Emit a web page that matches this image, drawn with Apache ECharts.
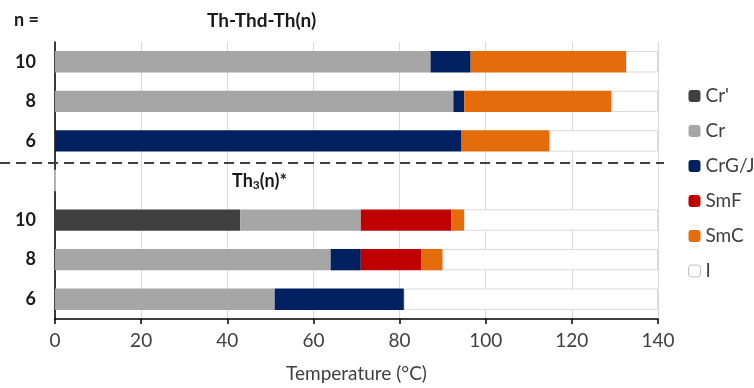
<!DOCTYPE html>
<html>
<head>
<meta charset="utf-8">
<script src="https://cdn.jsdelivr.net/npm/echarts@6/dist/echarts.min.js"></script>
<style>
  html, body { margin: 0; padding: 0; background: #fff; }
  #main { width: 754px; height: 388px; }
</style>
</head>
<body>
<div id="main"></div>
<script>
// rows from bottom to top: Th3(n)* 6, 8, 10, gap, Th-Thd-Th(n) 6, 8, 10
var rowKeys = ['b6', 'b8', 'b10', 'gap', 't6', 't8', 't10'];
var rowLabels = ['6', '8', '10', '', '6', '8', '10'];

// width of each phase range (°C) per row
var crPrime = [0, 0, 43, 0, 0, 0, 0];
var cr      = [51, 64, 28, 0, 0, 92.5, 87.2];
var crgj    = [30, 7, 0, 0, 94.4, 2.5, 9.3];
var smf     = [0, 14, 21, 0, 0, 0, 0];
var smc     = [0, 5, 3, 0, 20.4, 34.2, 36.1];
var iso     = [59, 50, 45, 0, 25.2, 10.8, 7.4];

var xTicks = [0, 20, 40, 60, 80, 100, 120, 140];

var font = 'Lato';

var myChart = echarts.init(document.getElementById('main'));

function bar(name, data, color, border) {
    return {
        name: name,
        type: 'bar',
        stack: 'phase',
        barWidth: '54%',
        data: data,
        itemStyle: {
            color: color,
            borderColor: border || 'rgba(0,0,0,0)',
            borderWidth: border ? 1 : 0
        },
        emphasis: { disabled: true }
    };
}

var option = {
    backgroundColor: '#fff',
    animation: false,
    textStyle: { fontFamily: font },
    grid: { left: 55, right: 96, top: 42, bottom: 67, containLabel: false },
    legend: {
        orient: 'vertical',
        left: 688,
        top: 86,
        padding: 0,
        itemWidth: 12,
        itemHeight: 12,
        itemGap: 15,
        textStyle: { fontSize: 19, lineHeight: 20, color: '#404040', fontFamily: font },
        data: [
            { name: "Cr'" },
            { name: 'Cr' },
            { name: 'CrG/J' },
            { name: 'SmF' },
            { name: 'SmC' },
            { name: 'I', itemStyle: { color: '#fff', borderColor: '#bfbfbf', borderWidth: 1 } }
        ]
    },
    xAxis: {
        type: 'value',
        min: xTicks[0],
        max: xTicks[xTicks.length - 1],
        interval: 20,
        name: 'Temperature (°C)',
        nameLocation: 'middle',
        nameGap: 45,
        nameTextStyle: { fontSize: 19, color: '#404040', fontFamily: font },
        axisLine: { show: true, lineStyle: { color: '#000', width: 1.5 } },
        axisTick: { show: true, length: 5, lineStyle: { color: '#000', width: 1.5 } },
        axisLabel: { fontSize: 19, color: '#404040', margin: 12 },
        splitLine: { show: true, lineStyle: { color: '#d9d9d9', width: 1 } }
    },
    yAxis: {
        type: 'category',
        data: rowKeys,
        axisLine: { show: true, lineStyle: { color: '#000', width: 1.5 } },
        axisTick: { show: false },
        axisLabel: {
            fontSize: 18,
            fontWeight: 'bold',
            color: '#1a1a1a',
            margin: 19,
            formatter: function (v, i) { return rowLabels[i]; }
        },
        splitLine: { show: false }
    },
    series: [
        bar("Cr'", crPrime, '#404040'),
        bar('Cr', cr, '#a6a6a6'),
        bar('CrG/J', crgj, '#002060'),
        bar('SmF', smf, '#c00000'),
        bar('SmC', smc, '#e46c0a'),
        bar('I', iso, '#ffffff', '#d9d9d9')
    ],
    graphic: [
        {
            type: 'text', left: 14, top: 11,
            style: { text: 'n =', fontSize: 18, fontWeight: 'bold', fill: '#1a1a1a', fontFamily: font }
        },
        {
            type: 'text', left: 207, top: 11,
            style: { text: 'Th-Thd-Th(n)', fontSize: 19, fontWeight: 'bold', fill: '#1a1a1a', fontFamily: font }
        },
        {
            type: 'text', left: 232, top: 172,
            style: {
                text: '{a|Th}{s|3}{a|(n)*}',
                fill: '#1a1a1a',
                rich: {
                    a: { fontSize: 18, fontWeight: 'bold', fontFamily: font, fill: '#1a1a1a' },
                    s: { fontSize: 12, fontWeight: 'bold', fontFamily: font, fill: '#1a1a1a', padding: [9, 0, 0, 0] }
                }
            }
        },
        {
            type: 'line',
            shape: { x1: 0, y1: 163, x2: 664, y2: 163 },
            style: { stroke: '#404040', lineWidth: 2, lineDash: [10, 6] },
            z: 100
        }
    ]
};

myChart.setOption(option);
</script>
</body>
</html>
